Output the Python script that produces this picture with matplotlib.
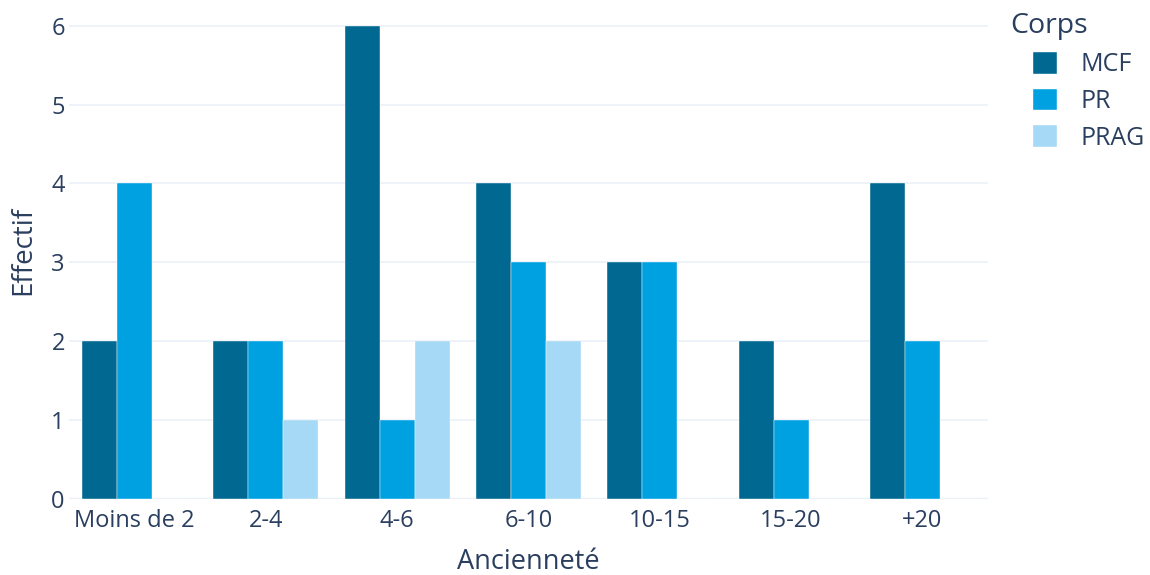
import matplotlib.pyplot as plt
import numpy as np

plt.rcParams['font.family'] = ['Open Sans', 'DejaVu Sans']

categories = ['Moins de 2', '2-4', '4-6', '6-10', '10-15', '15-20', '+20']
mcf = [2, 2, 6, 4, 3, 2, 4]
pr = [4, 2, 1, 3, 3, 1, 2]
prag = [0, 1, 2, 2, 0, 0, 0]
series = ['MCF', 'PR', 'PRAG']
colors = ['#006891', '#00a1e0', '#a5d9f5']
txt = '#2a3f5f'

fig = plt.figure(figsize=(11.5, 5.75), dpi=100)
ax = fig.add_axes([69/1150, 76/575, 919/1150, 497/575])

x = np.arange(len(categories))
w = 0.8 / 3
for i, (vals, name, c) in enumerate(zip([mcf, pr, prag], series, colors)):
    ax.bar(x + (i - 1) * w, vals, width=w, color=c, label=name, zorder=3,
           edgecolor='white', linewidth=0.3)

ax.set_xlim(-0.5, len(categories) - 0.5)
ax.set_ylim(0, 6.3)
ax.set_yticks(range(7))
ax.set_xticks(x)
ax.set_xticklabels(categories)
ax.grid(axis='y', color='#ebf0f8', linewidth=1.2, zorder=0)
ax.axhline(0, color='#ebf0f8', linewidth=2.5, zorder=2)
for s in ax.spines.values():
    s.set_visible(False)
ax.tick_params(length=0, labelsize=17, labelcolor=txt)
ax.tick_params(axis='y', pad=3)
ax.tick_params(axis='x', pad=7)
ax.set_xlabel('Ancienneté', fontsize=19.5, color=txt, labelpad=11)
ax.set_ylabel('Effectif', fontsize=20, color=txt, labelpad=10)

fig.text(1010/1150, 1 - 26/575, 'Corps', fontsize=20.5, color=txt, va='center', ha='left')
leg = ax.legend(loc='upper left', bbox_to_anchor=(1033/919 - 69/919, 1 - 50/497),
                frameon=False, fontsize=18, handlelength=0.95, handleheight=0.95,
                handletextpad=0.95, labelspacing=0.45, borderaxespad=0, borderpad=0)
for t in leg.get_texts():
    t.set_color(txt)

fig.savefig('out.png', dpi=100)
